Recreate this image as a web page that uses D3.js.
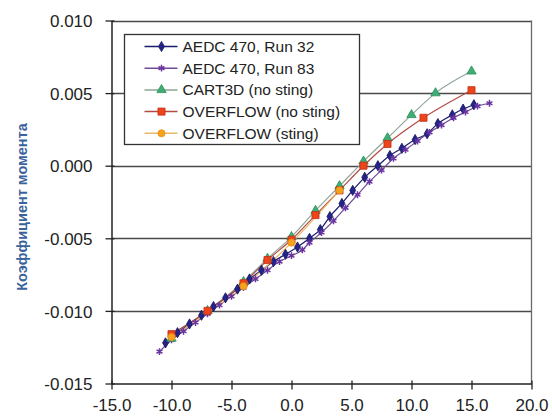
<!DOCTYPE html>
<html>
<head>
<meta charset="utf-8">
<script src="https://cdn.jsdelivr.net/npm/d3@7"></script>
<style>
  body { margin: 0; background: #fff; }
  svg { display: block; font-family: "Liberation Sans", Arial, sans-serif; }
</style>
</head>
<body>
<svg id="chart" width="552" height="419"></svg>
<script>
// angle of attack (deg) and moment coefficient
var run32X = [-10.5, -9.5, -8.5, -7.5, -6.5, -5.5, -4.5, -3.5, -2.5, -1.5, -0.5, 0.5, 1.5, 2.4, 3.2, 4.2, 5.1, 6.1, 7.2, 8.2, 9.2, 10.3, 11.3, 12.2, 13.4, 14.3, 15.2];
var run32Y = [-0.0122, -0.0115, -0.0109, -0.0103, -0.0097, -0.0091, -0.0085, -0.0078, -0.0072, -0.0066, -0.0061, -0.0056, -0.0050, -0.0044, -0.0035, -0.0026, -0.0017, -0.0008, 0.0000, 0.0007, 0.0012, 0.0018, 0.0022, 0.0029, 0.0035, 0.0039, 0.0042];
var run83X = [-11, -10, -9, -8, -7, -6, -5, -4, -3, -2, -1, 0, 0.9, 1.5, 2.5, 3.5, 4.5, 5.5, 6.5, 7.5, 8.5, 9.5, 10.5, 11.5, 12.5, 13.5, 14.5, 15.5, 16.5];
var run83Y = [-0.0128, -0.0120, -0.0114, -0.0108, -0.0102, -0.0096, -0.0090, -0.0084, -0.0078, -0.0072, -0.0066, -0.0062, -0.0058, -0.0053, -0.0046, -0.0038, -0.0029, -0.0020, -0.0011, -0.0003, 0.0005, 0.0011, 0.0017, 0.0023, 0.0028, 0.0033, 0.0037, 0.0041, 0.0043];
var cartX = [-10, -7, -4, -2, 0, 2, 4, 6, 8, 10, 12, 15];
var cartY = [-0.0119, -0.0100, -0.0080, -0.0064, -0.0049, -0.0031, -0.0014, 0.0003, 0.0019, 0.0035, 0.0050, 0.0065];
var ovfX = [-10, -7, -4, -2, 0, 2, 4, 6, 8, 11, 15];
var ovfY = [-0.0116, -0.0100, -0.0081, -0.0065, -0.0051, -0.0034, -0.0017, 0.0000, 0.0015, 0.0033, 0.0052];
var ovsX = [-10, -4, 0, 4];
var ovsY = [-0.0118, -0.0083, -0.0053, -0.0017];

var xTicks = [-15, -10, -5, 0, 5, 10, 15, 20];
var yTicks = [-0.015, -0.010, -0.005, 0.000, 0.005, 0.010];
var yTitle = "Коэффициент момента";

var series = [
  {name: "AEDC 470, Run 32", xs: run32X, ys: run32Y, line: "#1c1c6e", fill: "#23238a", stroke: "#14145a", sym: d3.symbolDiamond, size: 30},
  {name: "AEDC 470, Run 83", xs: run83X, ys: run83Y, line: "#6f4a98", fill: "none", stroke: "#6a35a0", sym: d3.symbolAsterisk, size: 32},
  {name: "CART3D (no sting)", xs: cartX, ys: cartY, line: "#8fa596", fill: "#3fae74", stroke: "#2f8e5c", sym: d3.symbolTriangle, size: 38},
  {name: "OVERFLOW (no sting)", xs: ovfX, ys: ovfY, line: "#b24a44", fill: "#ee4418", stroke: "#c0301a", sym: d3.symbolSquare, size: 50},
  {name: "OVERFLOW (sting)", xs: ovsX, ys: ovsY, line: "#e8b866", fill: "#f7a21c", stroke: "#e98d10", sym: d3.symbolCircle, size: 40}
];

var svg = d3.select("#chart");
var pLeft = 111.5, pRight = 531.5, pTop = 20.5, pBottom = 383.5;

var x = d3.scaleLinear().domain([-15, 20]).range([pLeft, pRight]);
var y = d3.scaleLinear().domain([-0.015, 0.010]).range([pBottom, pTop]);

var hyph = function(f) { return function(d) { return f(d).replace("\u2212", "-"); }; };

// grid lines and frame
svg.append("g").selectAll("line").data(yTicks.slice(1)).join("line")
  .attr("x1", pLeft).attr("x2", pRight)
  .attr("y1", function(d) { return Math.round(y(d)) + 0.5; })
  .attr("y2", function(d) { return Math.round(y(d)) + 0.5; })
  .attr("stroke", "#4a4a4a").attr("stroke-width", 1.6);
svg.append("line").attr("x1", pRight).attr("x2", pRight).attr("y1", pTop).attr("y2", pBottom)
  .attr("stroke", "#6a6a6a").attr("stroke-width", 1.3);

// axes
var yAxis = d3.axisLeft(y).tickValues(yTicks).tickFormat(hyph(d3.format(".3f"))).tickSize(0);
var gy = svg.append("g").attr("transform", "translate(" + pLeft + ",0)").call(yAxis);
gy.select(".domain").attr("stroke", "#222").attr("stroke-width", 1.5);
gy.selectAll(".tick text").attr("x", -19).attr("dy", "0.36em")
  .attr("font-size", 17).attr("fill", "#222");
gy.selectAll(".tick").append("line").attr("x1", -6).attr("x2", 3).attr("stroke", "#222").attr("stroke-width", 1.3);

var xAxis = d3.axisBottom(x).tickValues(xTicks).tickFormat(hyph(d3.format(".1f"))).tickSize(0);
var gx = svg.append("g").attr("transform", "translate(0," + pBottom + ")").call(xAxis);
gx.select(".domain").attr("stroke", "#222").attr("stroke-width", 1.5);
gx.selectAll(".tick text").attr("y", 15).attr("dy", "0.71em")
  .attr("font-size", 17).attr("fill", "#222");
gx.selectAll(".tick").append("line").attr("y1", -3).attr("y2", 6).attr("stroke", "#222").attr("stroke-width", 1.3);

// y title
svg.append("text")
  .attr("transform", "translate(27,207) rotate(-90)")
  .attr("text-anchor", "middle")
  .attr("font-size", 14.5).attr("font-weight", "bold")
  .attr("fill", "#3a639e")
  .text(yTitle);

// series
var lineGen = d3.line().curve(d3.curveMonotoneX);
series.forEach(function(s) {
  var pts = s.xs.map(function(v, i) { return [x(v), y(s.ys[i])]; });
  svg.append("path").attr("d", lineGen(pts)).attr("fill", "none")
    .attr("stroke", s.line).attr("stroke-width", 1.2);
});
series.forEach(function(s) {
  var pts = s.xs.map(function(v, i) { return [x(v), y(s.ys[i])]; });
  svg.append("g").selectAll("path").data(pts).join("path")
    .attr("transform", function(d) { return "translate(" + d[0] + "," + d[1] + ")"; })
    .attr("d", d3.symbol().type(s.sym).size(s.size))
    .attr("fill", s.fill).attr("stroke", s.stroke)
    .attr("stroke-width", s.fill === "none" ? 1.5 : 0.8);
});

// legend
var lg = svg.append("g").attr("transform", "translate(124.5,34.5)");
lg.append("rect").attr("width", 235).attr("height", 110)
  .attr("fill", "#fff").attr("stroke", "#333").attr("stroke-width", 1.3);
series.forEach(function(s, i) {
  var row = lg.append("g").attr("transform", "translate(0," + (12 + i * 21.7) + ")");
  row.append("line").attr("x1", 20).attr("x2", 53).attr("stroke", s.line).attr("stroke-width", 1.5);
  row.append("path").attr("transform", "translate(37,0)")
    .attr("d", d3.symbol().type(s.sym).size(s.size))
    .attr("fill", s.fill).attr("stroke", s.stroke)
    .attr("stroke-width", s.fill === "none" ? 1.5 : 0.8);
  row.append("text").attr("x", 58).attr("dy", "0.36em")
    .attr("font-size", 15.5).attr("fill", "#222").text(s.name);
});
</script>
</body>
</html>
